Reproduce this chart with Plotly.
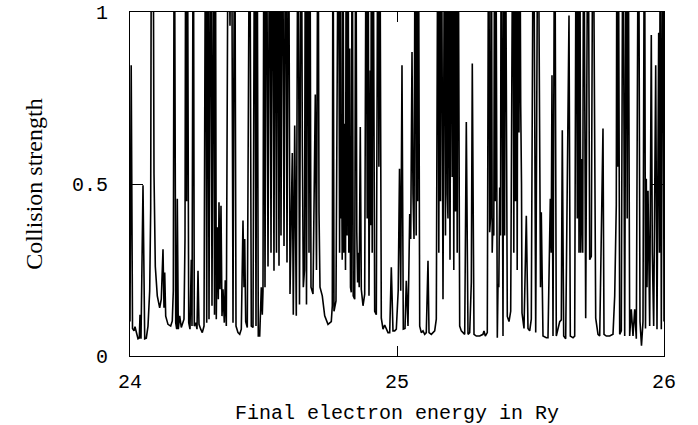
import plotly.graph_objects as go

# Final electron energy (Ry) at the vertices of the resonance curve
energy = [
    24.0000, 24.0045, 24.0094, 24.0150, 24.0187, 24.0243, 24.0300, 24.0348, 24.0375, 24.0412,
    24.0487, 24.0551, 24.0610, 24.0674, 24.0738, 24.0775, 24.0805, 24.0861, 24.0899, 24.0948,
    24.1022, 24.1112, 24.1172, 24.1236, 24.1273, 24.1300, 24.1337, 24.1423, 24.1524, 24.1584,
    24.1622, 24.1659, 24.1712, 24.1749, 24.1772, 24.1809, 24.1861, 24.1921, 24.2022, 24.2060,
    24.2090, 24.2120, 24.2146, 24.2199, 24.2247, 24.2296, 24.2322, 24.2371, 24.2408, 24.2461,
    24.2509, 24.2547, 24.2584, 24.2648, 24.2708, 24.2772, 24.2835, 24.2873, 24.2921, 24.2959,
    24.3022, 24.3071, 24.3135, 24.3165, 24.3195, 24.3232, 24.3270, 24.3307, 24.3333, 24.3371,
    24.3408, 24.3446, 24.3483, 24.3532, 24.3569, 24.3607, 24.3682, 24.3745, 24.3801, 24.3858,
    24.3921, 24.3970, 24.4045, 24.4109, 24.4169, 24.4232, 24.4270, 24.4296, 24.4333, 24.4393,
    24.4483, 24.4543, 24.4607, 24.4670, 24.4719, 24.4757, 24.4805, 24.4858, 24.4918, 24.4955,
    24.4981, 24.5019, 24.5056, 24.5112, 24.5169, 24.5232, 24.5281, 24.5330, 24.5393, 24.5431,
    24.5487, 24.5524, 24.5581, 24.5618, 24.5655, 24.5712, 24.5768, 24.5831, 24.5880, 24.5936,
    24.5993, 24.6079, 24.6116, 24.6169, 24.6228, 24.6292, 24.6348, 24.6416, 24.6453, 24.6491,
    24.6536, 24.6573, 24.6610, 24.6667, 24.6704, 24.6734, 24.6779, 24.6854, 24.6940, 24.6985,
    24.7041, 24.7079, 24.7116, 24.7202, 24.7292, 24.7416, 24.7539, 24.7577, 24.7603, 24.7640,
    24.7715, 24.7809, 24.7850, 24.7884, 24.7903, 24.7918, 24.7948, 24.7978, 24.8007, 24.8041,
    24.8071, 24.8101, 24.8131, 24.8165, 24.8195, 24.8228, 24.8258, 24.8288, 24.8322, 24.8360,
    24.8416, 24.8457, 24.8494, 24.8524, 24.8551, 24.8584, 24.8625, 24.8663, 24.8727, 24.8790,
    24.8850, 24.8884, 24.8914, 24.8951, 24.9000, 24.9019, 24.9045, 24.9071, 24.9101, 24.9164,
    24.9225, 24.9288, 24.9322, 24.9352, 24.9412, 24.9476, 24.9539, 24.9599, 24.9663, 24.9727,
    24.9787, 24.9850, 24.9914, 24.9974, 25.0045, 25.0094, 25.0139, 25.0187, 25.0236, 25.0300,
    25.0348, 25.0412, 25.0476, 25.0513, 25.0562, 25.0599, 25.0637, 25.0685, 25.0719, 25.0749,
    25.0772, 25.0798, 25.0850, 25.0910, 25.0974, 25.1037, 25.1097, 25.1161, 25.1199, 25.1285,
    25.1348, 25.1412, 25.1472, 25.1536, 25.1566, 25.1599, 25.1629, 25.1659, 25.1723, 25.1787,
    25.1816, 25.1846, 25.1884, 25.1910, 25.1936, 25.1985, 25.2034, 25.2067, 25.2097, 25.2127,
    25.2161, 25.2191, 25.2221, 25.2255, 25.2285, 25.2348, 25.2408, 25.2536, 25.2596, 25.2659,
    25.2723, 25.2783, 25.2820, 25.2884, 25.2970, 25.3097, 25.3221, 25.3258, 25.3307, 25.3382,
    25.3434, 25.3472, 25.3502, 25.3532, 25.3566, 25.3596, 25.3625, 25.3659, 25.3678, 25.3697,
    25.3757, 25.3783, 25.3813, 25.3846, 25.3876, 25.3906, 25.3970, 25.4007, 25.4030, 25.4056,
    25.4131, 25.4195, 25.4258, 25.4345, 25.4375, 25.4408, 25.4438, 25.4468, 25.4502, 25.4532,
    25.4569, 25.4596, 25.4633, 25.4663, 25.4682, 25.4757, 25.4843, 25.4906, 25.4970, 25.5030,
    25.5112, 25.5195, 25.5281, 25.5345, 25.5375, 25.5404, 25.5468, 25.5592, 25.5655, 25.5742,
    25.5775, 25.5805, 25.5843, 25.5906, 25.5966, 25.6094, 25.6154, 25.6191, 25.6243, 25.6318,
    25.6442, 25.6491, 25.6592, 25.6655, 25.6715, 25.6753, 25.6790, 25.6816, 25.6843, 25.6880,
    25.6918, 25.6955, 25.6993, 25.7067, 25.7154, 25.7217, 25.7277, 25.7341, 25.7404, 25.7442,
    25.7528, 25.7592, 25.7715, 25.7753, 25.7839, 25.7966, 25.8090, 25.8154, 25.8213, 25.8240,
    25.8262, 25.8285, 25.8341, 25.8401, 25.8464, 25.8528, 25.8588, 25.8622, 25.8652, 25.8715,
    25.8775, 25.8839, 25.8903, 25.8963, 25.9045, 25.9101, 25.9157, 25.9213, 25.9270, 25.9307,
    25.9337, 25.9363, 25.9401, 25.9464, 25.9524, 25.9562, 25.9614, 25.9689, 25.9738, 25.9801,
    25.9831, 25.9861, 25.9899, 25.9963, 26.0000,
]

# Collision strength at those vertices (values above 1 run off the top of the frame)
strength = [
    0.100, 0.845, 0.080, 0.073, 0.085, 0.063, 0.050, 0.052, 0.120, 0.050,
    0.496, 0.050, 0.052, 0.087, 0.190, 0.430, 1.500, 1.500, 0.530, 0.260,
    0.175, 0.140, 0.165, 0.310, 0.140, 0.243, 0.116, 0.092, 0.087, 0.102,
    0.190, 1.500, 0.097, 0.078, 0.457, 0.078, 0.117, 0.083, 0.107, 0.340,
    1.500, 0.450, 1.500, 0.097, 0.078, 0.280, 0.087, 1.500, 0.087, 0.097,
    0.078, 0.248, 0.092, 0.078, 0.068, 0.087, 1.500, 0.097, 1.500, 0.107,
    1.500, 0.146, 1.500, 0.120, 1.500, 0.107, 0.374, 0.165, 0.447, 0.194,
    0.437, 0.116, 0.194, 0.097, 0.220, 0.087, 1.500, 0.960, 1.500, 0.097,
    1.500, 0.087, 0.068, 0.063, 0.078, 0.394, 0.200, 0.340, 0.100, 0.083,
    1.500, 0.087, 0.083, 1.500, 0.087, 1.500, 0.058, 0.058, 0.200, 0.120,
    0.190, 1.500, 0.200, 1.500, 0.260, 1.500, 0.300, 1.500, 0.248, 1.500,
    0.300, 1.500, 0.262, 1.500, 0.350, 1.500, 0.320, 1.500, 0.272, 1.500,
    0.180, 0.590, 0.120, 0.670, 0.117, 1.500, 0.150, 1.500, 0.630, 0.200,
    0.250, 1.500, 0.150, 1.500, 0.300, 1.500, 0.200, 0.180, 0.760, 0.250,
    1.500, 0.420, 0.200, 0.175, 0.117, 0.092, 0.100, 0.146, 1.500, 0.130,
    0.160, 1.500, 0.300, 1.500, 0.400, 0.680, 0.280, 1.500, 0.300, 0.675,
    0.250, 1.500, 0.350, 1.500, 0.300, 0.894, 0.200, 0.185, 1.500, 0.175,
    0.165, 1.500, 0.360, 0.214, 0.300, 0.200, 0.666, 0.194, 0.146, 0.180,
    1.500, 0.400, 1.500, 0.175, 0.830, 0.380, 1.500, 0.300, 1.500, 0.130,
    0.120, 1.500, 0.550, 1.500, 0.110, 0.078, 0.090, 0.080, 0.068, 0.068,
    0.258, 0.073, 0.073, 0.078, 0.190, 0.544, 0.190, 0.845, 0.078, 0.080,
    0.219, 0.087, 0.413, 0.340, 0.884, 0.470, 0.340, 1.500, 0.350, 1.500,
    0.450, 1.500, 0.087, 0.068, 0.073, 0.063, 0.068, 0.277, 0.068, 0.063,
    0.068, 0.073, 0.107, 1.500, 0.300, 1.500, 0.450, 1.500, 0.165, 1.500,
    0.350, 1.500, 0.470, 0.400, 1.500, 0.280, 1.500, 0.520, 1.500, 0.250,
    1.500, 0.420, 1.500, 0.300, 1.500, 0.087, 0.073, 0.063, 0.680, 0.063,
    0.068, 0.214, 0.850, 0.063, 0.058, 0.058, 0.063, 0.073, 0.058, 0.068,
    1.500, 0.360, 0.400, 1.500, 0.300, 0.400, 0.350, 1.500, 0.450, 1.500,
    0.053, 0.210, 0.200, 0.490, 0.350, 1.500, 0.058, 1.500, 0.350, 1.500,
    0.115, 0.100, 0.130, 1.500, 0.300, 1.500, 0.450, 1.500, 0.250, 1.500,
    0.650, 1.500, 0.730, 0.500, 0.125, 0.080, 0.408, 0.080, 0.073, 0.107,
    1.500, 0.068, 1.500, 0.320, 0.200, 0.418, 0.058, 0.053, 0.053, 0.457,
    0.300, 0.816, 0.058, 1.500, 0.058, 0.100, 0.105, 0.656, 0.058, 0.050,
    0.990, 0.058, 0.053, 0.058, 1.500, 0.400, 1.500, 0.300, 1.500, 0.300,
    0.573, 0.300, 1.500, 0.110, 1.500, 0.280, 0.290, 1.500, 0.564, 0.110,
    0.063, 0.058, 0.661, 0.063, 0.058, 0.058, 0.063, 0.175, 0.440, 1.500,
    0.550, 1.500, 0.063, 0.073, 1.500, 0.058, 1.500, 0.400, 1.500, 0.058,
    0.136, 0.058, 0.136, 0.050, 1.500, 0.100, 0.030, 0.100, 1.500, 0.080,
    0.515, 0.200, 0.480, 0.087, 0.933, 0.300, 0.087, 0.845, 0.078, 0.940,
    0.300, 1.500, 0.078, 1.500, 0.100,
]

x_ticks = [24, 25, 26]
x_tick_text = ["24", "25", "26"]
y_ticks = [0, 0.5, 1]
y_tick_text = ["0", "0.5", "1"]

x_title = "Final electron energy in Ry"
y_title = "Collision strength"

fig = go.Figure(
    go.Scatter(
        x=energy,
        y=strength,
        mode="lines",
        line=dict(color="black", width=1.6),
        hoverinfo="skip",
        showlegend=False,
    )
)

tick_font = dict(family="Liberation Mono, DejaVu Sans Mono, monospace", size=20, color="black")

fig.update_layout(
    width=698,
    height=425,
    margin=dict(l=130, r=34, t=12, b=69, autoexpand=False),
    paper_bgcolor="white",
    plot_bgcolor="white",
    xaxis=dict(
        range=[24, 26],
        tickvals=x_ticks,
        ticktext=x_tick_text,
        ticks="inside",
        ticklen=10,
        tickwidth=1,
        tickcolor="black",
        showline=True,
        linecolor="black",
        linewidth=1,
        mirror="ticks",
        showgrid=False,
        zeroline=False,
        tickfont=tick_font,
        ticklabelstandoff=7,
        title=dict(text=x_title, font=dict(family="Liberation Mono, monospace", size=20, color="black"), standoff=12),
        automargin=False,
    ),
    yaxis=dict(
        range=[0, 1],
        tickvals=y_ticks,
        ticktext=y_tick_text,
        ticks="inside",
        ticklen=13,
        tickwidth=1,
        tickcolor="black",
        showline=True,
        linecolor="black",
        linewidth=1,
        mirror="ticks",
        showgrid=False,
        zeroline=False,
        tickfont=tick_font,
        ticklabelstandoff=17,
        title=dict(text=y_title, font=dict(family="Liberation Serif, serif", size=24, color="black"), standoff=22),
        automargin=False,
    ),
)

# remove the default page margin so the figure fills the window from its top-left corner
fig.write_html(
    "out.html",
    config={"displayModeBar": False},
    post_script="document.body.style.margin='0';document.body.style.padding='0';",
)
